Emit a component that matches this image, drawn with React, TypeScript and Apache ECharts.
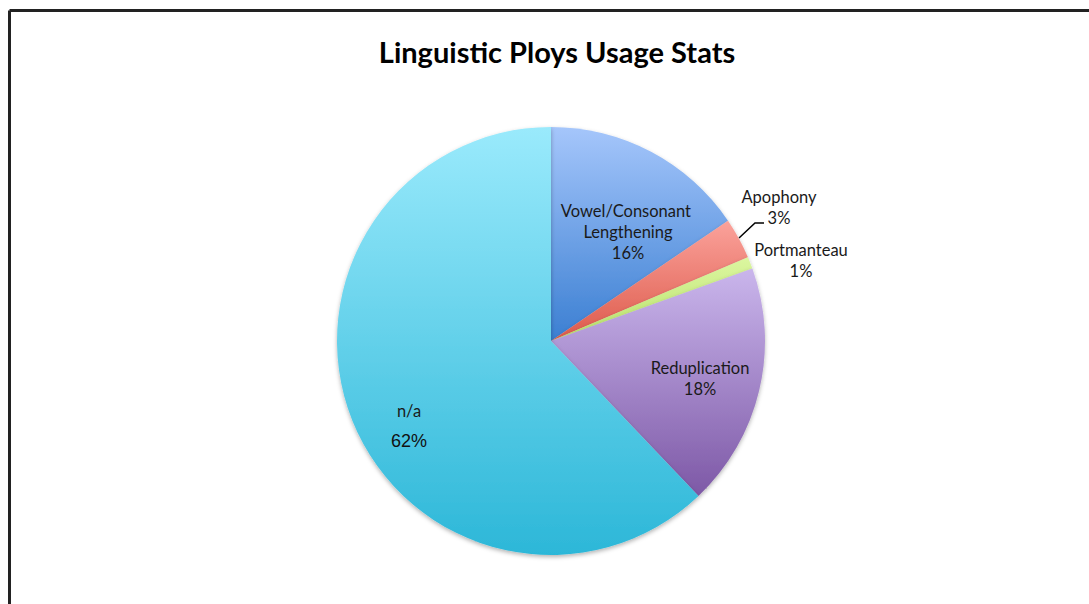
import React, { useEffect, useRef } from "react";
import * as echarts from "echarts";

const titleText = "Linguistic Ploys Usage Stats";
const categories = ["Vowel/Consonant Lengthening", "Apophony", "Portmanteau", "Reduplication", "n/a"];
const values = [15.5, 3.1, 0.9, 18.4, 62.1];
const topColors = ["#a5c6fb", "#fba29b", "#dcf7a0", "#cab6ec", "#9aeafc"];
const bottomColors = ["#3b7fd2", "#dd5a4b", "#b8e06c", "#7d58a6", "#2cb7d8"];

export default function App() {
  const ref = useRef<HTMLDivElement>(null);
  useEffect(() => {
    if (!ref.current) return;
    const chart = echarts.init(ref.current, undefined, { renderer: "svg" });
    const labelPos: Record<number, any> = {
      0: { x: 628, y: 232 },
      1: { x: 779, y: 207 },
      2: { x: 801, y: 260 },
      3: { x: 700, y: 378 },
      4: { x: 409, y: 426 },
    };
    const font = "Lato, 'Open Sans', sans-serif";
    const data = categories.map((name, i) => {
      const item: any = {
        name,
        value: values[i],
        itemStyle: {
          color: new echarts.graphic.LinearGradient(0, 0, 0, 1, [
            { offset: 0, color: topColors[i] },
            { offset: 1, color: bottomColors[i] },
          ]),
        },
      };
      if (i === 1) {
        item.label = { position: "outside" };
        item.labelLine = { show: true, lineStyle: { color: "#000", width: 1.5 } };
      } else if (i === 2) {
        item.label = { position: "outside" };
        item.labelLine = { show: false };
      } else if (i === 4) {
        item.label = {
          position: "inside",
          width: null,
          overflow: "none",
          formatter: (p: any) => "{a|" + p.name + "}\n{c|" + p.percent + "%}",
          rich: {
            a: { fontFamily: font, fontSize: 16.5, color: "#1a1a1a", lineHeight: 30 },
            c: { fontFamily: "Liberation Sans", fontSize: 18, color: "#111", lineHeight: 30 },
          },
        };
      } else {
        item.label = { position: "inside" };
      }
      return item;
    });
    chart.setOption({
      animation: false,
      backgroundColor: "#ffffff",
      title: {
        text: titleText,
        left: 552,
        textAlign: "center",
        top: 32,
        textStyle: { fontFamily: font, fontWeight: "bold", fontSize: 29, color: "#000" },
      },
      graphic: [
        { type: "line", shape: { x1: 9.5, y1: 10.5, x2: 1089, y2: 10.5 }, style: { stroke: "#222", lineWidth: 3 } },
        { type: "line", shape: { x1: 9.5, y1: 10.5, x2: 9.5, y2: 604 }, style: { stroke: "#222", lineWidth: 3 } },
      ],
      series: [
        {
          type: "pie",
          center: [551, 341],
          radius: 214,
          startAngle: 90,
          clockwise: true,
          percentPrecision: 0,
          avoidLabelOverlap: false,
          itemStyle: {
            shadowBlur: 4,
            shadowColor: "rgba(0,0,0,0.3)",
            shadowOffsetY: 2,
          },
          emphasis: { disabled: true },
          label: {
            show: true,
            formatter: "{b}\n{d}%",
            fontFamily: font,
            fontSize: 16.5,
            lineHeight: 21,
            color: "#1a1a1a",
            width: 160,
            overflow: "break",
            align: "center",
          },
          labelLayout: (params: any) => {
            const p = labelPos[params.dataIndex];
            const res: any = { x: p.x, y: p.y, align: "center", verticalAlign: "middle" };
            if (params.dataIndex === 1) {
              res.labelLinePoints = [
                [739, 238],
                [755, 223],
                [764, 223],
              ];
            }
            return res;
          },
          data,
        },
      ],
    });
    return () => chart.dispose();
  }, []);
  return <div ref={ref} style={{ position: "fixed", left: 0, top: 0, width: 1089, height: 604 }} />;
}
